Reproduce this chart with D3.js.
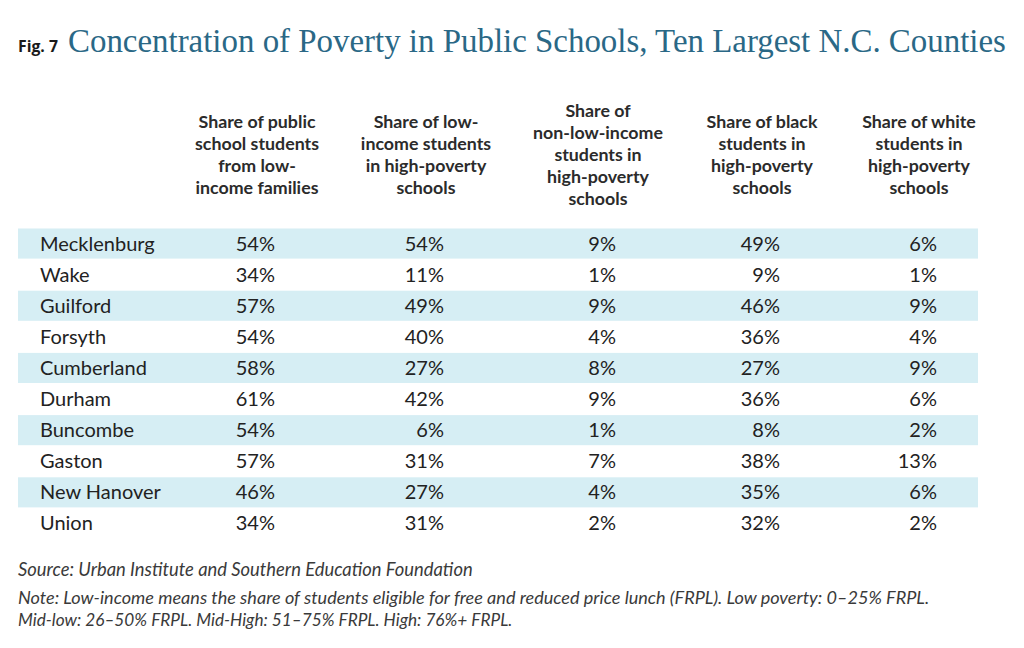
<!DOCTYPE html>
<html>
<head>
<meta charset="utf-8">
<script src="https://cdn.jsdelivr.net/npm/d3@7"></script>
<style>
  html, body { margin: 0; padding: 0; background: #fff; }
  svg { display: block; }
</style>
</head>
<body>
<svg id="chart" width="1024" height="648"></svg>
<script>
// ---------- DATA ----------
const counties = ["Mecklenburg", "Wake", "Guilford", "Forsyth", "Cumberland",
                  "Durham", "Buncombe", "Gaston", "New Hanover", "Union"];
const columnHeaders = [
  ["Share of public", "school students", "from low-", "income families"],
  ["Share of low-", "income students", "in high-poverty", "schools"],
  ["Share of", "non-low-income", "students in", "high-poverty", "schools"],
  ["Share of black", "students in", "high-poverty", "schools"],
  ["Share of white", "students in", "high-poverty", "schools"]
];
const lowIncomeShare      = [54, 34, 57, 54, 58, 61, 54, 57, 46, 34];
const lowIncomeHighPov    = [54, 11, 49, 40, 27, 42, 6, 31, 27, 31];
const nonLowIncomeHighPov = [9, 1, 9, 4, 8, 9, 1, 7, 4, 2];
const blackHighPov        = [49, 9, 46, 36, 27, 36, 8, 38, 35, 32];
const whiteHighPov        = [6, 1, 9, 4, 9, 6, 2, 13, 6, 2];
const seriesValues = [lowIncomeShare, lowIncomeHighPov, nonLowIncomeHighPov, blackHighPov, whiteHighPov];

const figLabel = "Fig. 7";
const titleText = "Concentration of Poverty in Public Schools, Ten Largest N.C. Counties";
const sourceText = "Source: Urban Institute and Southern Education Foundation";
const noteLines = [
  "Note: Low-income means the share of students eligible for free and reduced price lunch (FRPL). Low poverty: 0\u201325% FRPL.",
  "Mid-low: 26\u201350% FRPL. Mid-High: 51\u201375% FRPL. High: 76%+ FRPL."
];

// ---------- LAYOUT ----------
const svg = d3.select("#chart");
const sans = "Lato, 'Open Sans', 'Noto Sans', sans-serif";
const serif = "'Liberation Serif', 'DejaVu Serif', serif";

function fitText(sel, targetWidth) {
  const node = sel.node();
  const fs = parseFloat(sel.attr("font-size"));
  const w = node.getComputedTextLength();
  if (w > 0) sel.attr("font-size", (fs * targetWidth / w).toFixed(2));
}

// Title
const fig = svg.append("text")
  .attr("x", 18).attr("y", 52)
  .attr("font-family", "'Open Sans', sans-serif")
  .attr("font-weight", 700).attr("font-size", 14)
  .attr("fill", "#1a1a1a")
  .text(figLabel);
fitText(fig, 40);

const title = svg.append("text")
  .attr("x", 68).attr("y", 52)
  .attr("font-family", serif)
  .attr("font-size", 28)
  .attr("fill", "#2a6886")
  .text(titleText);
fitText(title, 938);

// Scales
const colIdx = d3.range(columnHeaders.length);
const xCenter = d3.scaleOrdinal().domain(colIdx).range([257, 426, 598, 762, 919]);
const y = d3.scaleBand().domain(counties).range([228.5, 538.5]).paddingInner(1 / 31).paddingOuter(0);
const stripeX = d3.scaleLinear().domain([0, 1]).range([18, 978]);

// Header
const headerMid = 155;
const lineH = 22;
const hdr = svg.append("g").attr("class", "headers");
colIdx.forEach(i => {
  const lines = columnHeaders[i];
  const start = headerMid - (lines.length - 1) * lineH / 2;
  hdr.append("text")
    .attr("text-anchor", "middle")
    .attr("font-family", sans)
    .attr("font-weight", 700)
    .attr("font-size", 17.8)
    .attr("fill", "#2b2b2b")
    .selectAll("tspan")
    .data(lines)
    .join("tspan")
    .attr("x", xCenter(i))
    .attr("y", (d, k) => start + k * lineH + 6)
    .text(d => d);
});

// Stripes
svg.append("g").selectAll("rect")
  .data(counties.filter((d, i) => i % 2 === 0))
  .join("rect")
  .attr("x", stripeX(0))
  .attr("width", stripeX(1) - stripeX(0))
  .attr("y", d => y(d))
  .attr("height", y.bandwidth())
  .attr("fill", "#d6eef4");

// Row labels
const rowFont = 20;
svg.append("g").selectAll("text")
  .data(counties)
  .join("text")
  .attr("x", 40)
  .attr("y", d => y(d) + y.bandwidth() / 2 + 7)
  .attr("font-family", sans)
  .attr("font-size", rowFont)
  .attr("fill", "#222")
  .text(d => d);

// Values (right aligned)
colIdx.forEach(i => {
  svg.append("g").selectAll("text")
    .data(seriesValues[i].map((v, r) => ({ v, c: counties[r] })))
    .join("text")
    .attr("x", xCenter(i) + 18)
    .attr("y", d => y(d.c) + y.bandwidth() / 2 + 7)
    .attr("text-anchor", "end")
    .attr("font-family", sans)
    .attr("font-size", rowFont)
    .attr("fill", "#222")
    .text(d => d.v + "%");
});

// Source & note
const src = svg.append("text")
  .attr("x", 18).attr("y", 576)
  .attr("font-family", sans)
  .attr("font-style", "italic")
  .attr("font-size", 16)
  .attr("fill", "#3a3a3a")
  .text(sourceText);
fitText(src, 455);

const noteTargets = [912, 495];
noteLines.forEach((t, i) => {
  const n = svg.append("text")
    .attr("x", 18).attr("y", 604 + i * 22)
    .attr("font-family", sans)
    .attr("font-style", "italic")
    .attr("font-size", 16)
    .attr("fill", "#3a3a3a")
    .text(t);
  fitText(n, noteTargets[i]);
});
</script>
</body>
</html>
